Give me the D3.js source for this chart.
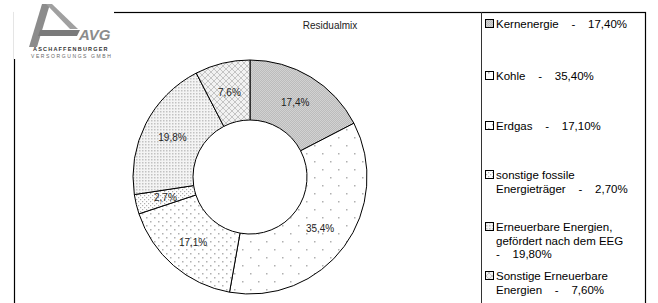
<!DOCTYPE html>
<html>
<head>
<meta charset="utf-8">
<script src="https://cdn.jsdelivr.net/npm/d3@7"></script>
<style>
  body { margin: 0; background: #fff; }
  svg { display: block; font-family: "Liberation Sans", Arial, sans-serif; }
</style>
</head>
<body>
<div id="chart"></div>
<script>
// data
var categories = ["Kernenergie", "Kohle", "Erdgas", "sonstige fossile Energieträger",
  "Erneuerbare Energien, gefördert nach dem EEG", "Sonstige Erneuerbare Energien"];
var values = [17.4, 35.4, 17.1, 2.7, 19.8, 7.6];
var sliceLabels = ["17,4%", "35,4%", "17,1%", "2,7%", "19,8%", "7,6%"];
var legendLines = [
  ["Kernenergie    -    17,40%"],
  ["Kohle    -    35,40%"],
  ["Erdgas    -    17,10%"],
  ["sonstige fossile", "Energieträger    -    2,70%"],
  ["Erneuerbare Energien,", "gefördert nach dem EEG", "-    19,80%"],
  ["Sonstige Erneuerbare", "Energien    -    7,60%"]
];
var legendTop = [28, 80, 130, 179, 231, 280];
var patternIds = ["p-kern", "p-kohle", "p-erdgas", "p-fossil", "p-eeg", "p-erneu"];
var title = "Residualmix";

var W = 658, H = 303;
var svg = d3.select('#chart').append('svg').attr('width', W).attr('height', H);
svg.append('rect').attr('width', W).attr('height', H).attr('fill', '#fff');

// patterns
var defs = svg.append('defs');
function dots(id, w, h, bg, color, pts, r) {
  var p = defs.append('pattern').attr('id', id).attr('patternUnits', 'userSpaceOnUse')
    .attr('width', w).attr('height', h);
  p.append('rect').attr('width', w).attr('height', h).attr('fill', bg);
  pts.forEach(function (pt) {
    p.append('rect').attr('x', pt[0]).attr('y', pt[1]).attr('width', r).attr('height', r).attr('fill', color);
  });
}
dots('p-kern', 2, 2, '#d2d2d2', '#bcbcbc', [[0, 0], [1, 1]], 1);
dots('p-kohle', 16, 16, '#fff', '#b0b0b0', [[0, 0], [8, 8]], 1.5);
dots('p-erdgas', 8, 8, '#fff', '#b0b0b0', [[0, 0], [4, 4]], 1.5);
dots('p-fossil', 4, 4, '#fff', '#b0b0b0', [[0, 0], [2, 2]], 1.2);
dots('p-eeg', 3, 3, '#f4f4f4', '#c2c2c2', [[0, 0]], 1.5);
var cross = defs.append('pattern').attr('id', 'p-erneu').attr('patternUnits', 'userSpaceOnUse')
  .attr('width', 6).attr('height', 6);
cross.append('rect').attr('width', 6).attr('height', 6).attr('fill', '#f2f2f2');
cross.append('path').attr('d', 'M0,0L6,6M6,0L0,6').attr('stroke', '#c4c4c4').attr('stroke-width', 1);

// frame
svg.append('rect').attr('x', 14.5).attr('y', 12.5).attr('width', 631).attr('height', 300)
  .attr('fill', 'none').attr('stroke', '#000').attr('stroke-width', 1.2);
svg.append('line').attr('x1', 481.5).attr('x2', 481.5).attr('y1', 12).attr('y2', H)
  .attr('stroke', '#333').attr('stroke-width', 1);

// logo
var logo = svg.append('g');
logo.append('rect').attr('x', 14).attr('y', 2).attr('width', 100).attr('height', 57).attr('fill', '#fff');
logo.append('path').attr('d', 'M29,47L42,4L50,4L37,47Z').attr('fill', '#8c8c8c');
logo.append('path').attr('d', 'M46,4L52,4L78,29L70,29Z').attr('fill', '#a0a0a0');
logo.append('path').attr('d', 'M40,30L80,30L77,36L38,36Z').attr('fill', '#7a7a7a');
logo.append('text').attr('x', 79).attr('y', 40).attr('font-size', 15).attr('font-weight', 'bold')
  .attr('font-style', 'italic').attr('fill', '#8c8c8c').text('AVG');
logo.append('text').attr('x', 33).attr('y', 51).attr('font-size', 5.5).attr('font-weight', 'bold')
  .attr('letter-spacing', 1.2).attr('fill', '#333').text('ASCHAFFENBURGER');
logo.append('text').attr('x', 31).attr('y', 58).attr('font-size', 5).attr('letter-spacing', 1.6)
  .attr('fill', '#666').text('VERSORGUNGS GMBH');

// title
svg.append('text').attr('x', 330).attr('y', 29).attr('text-anchor', 'middle')
  .attr('font-size', 10).attr('fill', '#222').text(title);

// donut
var cx = 250, cy = 177, R = 117, r = 57;
var pie = d3.pie().sort(null).value(function (d) { return d; });
var arc = d3.arc().innerRadius(r).outerRadius(R);
var g = svg.append('g').attr('transform', 'translate(' + cx + ',' + cy + ')');
var arcs = pie(values);
g.selectAll('path.slice').data(arcs).enter().append('path')
  .attr('class', 'slice')
  .attr('d', arc)
  .attr('fill', function (d, i) { return 'url(#' + patternIds[i] + ')'; })
  .attr('stroke', '#000').attr('stroke-width', 1);
g.selectAll('text.lbl').data(arcs).enter().append('text')
  .attr('class', 'lbl')
  .attr('transform', function (d) { return 'translate(' + arc.centroid(d) + ')'; })
  .attr('text-anchor', 'middle').attr('dy', '0.35em')
  .attr('font-size', 10).attr('fill', '#222')
  .text(function (d, i) { return sliceLabels[i]; });

// legend
var leg = svg.append('g');
categories.forEach(function (c, i) {
  var y0 = legendTop[i];
  leg.append('rect').attr('x', 485.5).attr('y', y0 - 8.5).attr('width', 8).attr('height', 8)
    .attr('fill', 'url(#' + patternIds[i] + ')').attr('stroke', '#000').attr('stroke-width', 1);
  var t = leg.append('text').attr('font-size', 11.5).attr('fill', '#000').style('white-space', 'pre');
  legendLines[i].forEach(function (line, j) {
    t.append('tspan').attr('x', 496).attr('y', y0 + j * 13.5).text(line);
  });
});
</script>
</body>
</html>
